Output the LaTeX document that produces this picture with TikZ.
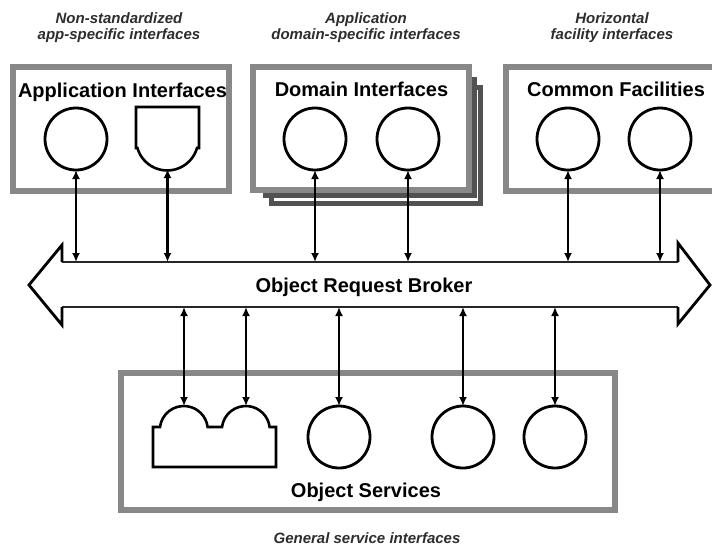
\documentclass[tikz,border=0pt]{standalone}
\usepackage{fontspec}
\setmainfont{Liberation Sans}
\usetikzlibrary{arrows.meta}
\definecolor{framegray}{RGB}{136,136,136}
\definecolor{shadowgray}{RGB}{82,82,82}
\definecolor{capgray}{RGB}{45,45,45}
\tikzset{
  every node/.style={inner sep=0pt, outer sep=0pt},
  title/.style={font=\fontsize{20}{24}\selectfont\bfseries, anchor=base},
  caption/.style={font=\fontsize{15}{16}\selectfont\bfseries\itshape, text=capgray, align=center, anchor=base},
  port/.style={circle, draw, line width=2.8pt, minimum size=62pt, fill=white},
  frame/.style={draw=framegray, line width=6pt, fill=white},
  shadowframe/.style={draw=shadowgray, line width=5pt, fill=white},
  socket/.style={draw, line width=2.6pt, fill=white, line join=miter},
  dbl/.style={{Latex[length=9pt,width=8pt]}-{Latex[length=9pt,width=8pt]}, line width=2.5pt},
  shaft/.style={draw=black!85, line width=1.8pt},
  head/.style={draw, line width=2.8pt, line join=miter},
}
\begin{document}
\begin{tikzpicture}[x=1pt,y=-1pt]
\useasboundingbox (0,0) rectangle (712,547);
\clip (0,0) rectangle (712,547);

% captions
\node[caption] (capA) at (119,39) {Non-standardized\\app-specific interfaces};
\node[caption] (capD) at (366,39) {Application\\domain-specific interfaces};
\node[caption] (capC) at (612,39) {Horizontal\\facility interfaces};
\node[caption] (capS) at (367,543) {General service interfaces};

% frames
\draw[frame] (13,67) rectangle (229,191);
\draw[shadowframe] (271.5,87.5) rectangle (480.5,203.5);
\draw[shadowframe] (265.5,79.5) rectangle (474.5,195.5);
\draw[frame] (253,67) rectangle (469,190);
\draw[frame] (506,67) rectangle (730,191);
\draw[frame] (121,373) rectangle (615,510);

% titles
\node[title] (tA) at (122.5,97) {Application Interfaces};
\node[title] (tD) at (361.5,96) {Domain Interfaces};
\node[title] (tC) at (616,96) {Common Facilities};
\node[title] (tS) at (366,497) {Object Services};

% ORB
\fill[white] (62,262) -- (678,262) -- (678,243) -- (710,285) -- (678,324) -- (678,307)
  -- (62,307) -- (62,325) -- (29,285) -- (62,245) -- cycle;
\draw[shaft] (62,262) -- (678,262);
\draw[shaft] (62,307) -- (678,307);
\draw[head] (678,262) -- (678,243) -- (710,285) -- (678,324) -- (678,307);
\draw[head] (62,262) -- (62,245) -- (29,285) -- (62,325) -- (62,307);
\node[title] (orb) at (364,292) {Object Request Broker};
\coordinate (orbtop) at (0,262);
\coordinate (orbbot) at (0,307);

% upper components
\node[port] (c1) at (76,139) {};
\draw[socket] (136,148) -- (136,107) -- (199,107) -- (199,148) -- (197,148)
  arc[start angle=16, end angle=164, radius=31] -- cycle;
\coordinate (s1b) at (167.5,169);
\node[port] (c2) at (315,139) {};
\node[port] (c3) at (408,139) {};
\node[port] (c4) at (568,139) {};
\node[port] (c5) at (660,139) {};

% lower components
\draw[socket] (153,467) -- (153,427) -- (160,427)
  arc[start angle=187.2, end angle=352.8, radius=24] -- (222,427)
  arc[start angle=187.2, end angle=352.8, radius=24] -- (276,427) -- (276,467) -- cycle;
\coordinate (s2a) at (184,406);
\coordinate (s2b) at (246,406);
\node[port] (c6) at (339,437) {};
\node[port] (c7) at (463,437) {};
\node[port] (c8) at (555,437) {};

% connectors
\draw[dbl] (c1) -- (c1 |- orbtop);
\draw[dbl] (s1b) -- (s1b |- orbtop);
\draw[dbl] (c2) -- (c2 |- orbtop);
\draw[dbl] (c3) -- (c3 |- orbtop);
\draw[dbl] (c4) -- (c4 |- orbtop);
\draw[dbl] (c5) -- (c5 |- orbtop);
\draw[dbl] (s2a) -- (s2a |- orbbot);
\draw[dbl] (s2b) -- (s2b |- orbbot);
\draw[dbl] (c6) -- (c6 |- orbbot);
\draw[dbl] (c7) -- (c7 |- orbbot);
\draw[dbl] (c8) -- (c8 |- orbbot);
\end{tikzpicture}
\end{document}
